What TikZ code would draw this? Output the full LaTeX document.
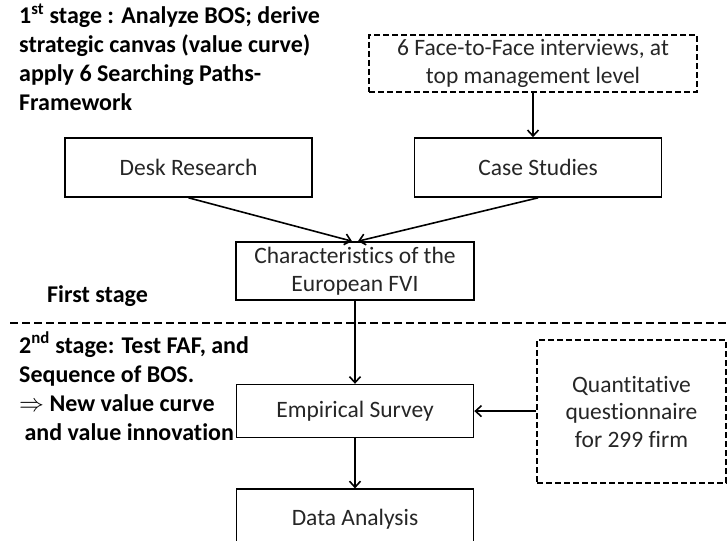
\documentclass[tikz,border=0pt]{standalone}
\usepackage{fontspec}
\setmainfont[Ligatures=NoCommon]{Carlito}
\usepackage{tikz}
\usetikzlibrary{positioning,arrows.meta}

\begin{document}
\begin{tikzpicture}[
    x=1pt, y=-1pt,
    box/.style={rectangle, draw=black, line width=1.6pt, fill=white, minimum width=247pt, minimum height=59pt, align=center, font=\fontsize{23.5}{27.5}\selectfont, text=black!85},
    dbox/.style={box, dash pattern=on 6pt off 3pt},
    stage/.style={anchor=north west, inner sep=0pt, align=left, font=\bfseries\fontsize{24}{29}\selectfont},
    arrow/.style={-{Straight Barb[length=6pt,width=11pt]}, line width=1.6pt},
    node distance=46pt
]
\useasboundingbox (0,0) rectangle (727,540);

% first stage (top)
\node[stage] (stage1) at (19,4) {1\textsuperscript{st} stage : Analyze BOS; derive\\strategic canvas (value curve)\\apply 6 Searching Paths-\\Framework};

\node[box] (desk) at (188.5,167.5) {Desk Research};
\node[box, right=101pt of desk] (case) {Case Studies};
\node[dbox, minimum width=328pt, minimum height=57pt] (interv) at (533,63.5) {6 Face-to-Face interviews, at\\top management level};
\draw[arrow] (interv.south) -- (interv.south |- case.north);

\node[box, minimum width=238pt, minimum height=58pt] (charac) at (355,271) {Characteristics of the\\European FVI};
\draw[arrow] (desk.south) -- ([xshift=-3pt]charac.north);
\draw[arrow] (case.south) -- ([xshift=3pt]charac.north);

\node[stage, anchor=west] (first) at (47,296) {First stage};

% stage border
\coordinate (sepL) at (10,323);
\coordinate (sepR) at (727,323);
\draw[line width=1.6pt, dash pattern=on 8pt off 4pt] (sepL) -- (sepR);

% second stage (bottom)
\node[stage] (stage2) at (19,332) {2\textsuperscript{nd} stage: Test FAF, and\\Sequence of BOS.\\$\Rightarrow$ New value curve\\\ and value innovation};

\node[box, minimum width=237pt, minimum height=53pt, below=83pt of charac] (survey) {Empirical Survey};
\draw[arrow] (charac.south) -- (survey.north);

\node[box, minimum width=237pt, minimum height=60pt, below=50pt of survey] (data) {Data Analysis};
\draw[arrow] (survey.south) -- (data.north);

\node[dbox, minimum width=189pt, minimum height=143pt] (quest) at (631.5,411.5) {Quantitative\\questionnaire\\for 299 firm};
\draw[arrow] (quest.west |- survey.east) -- (survey.east);

\end{tikzpicture}
\end{document}
